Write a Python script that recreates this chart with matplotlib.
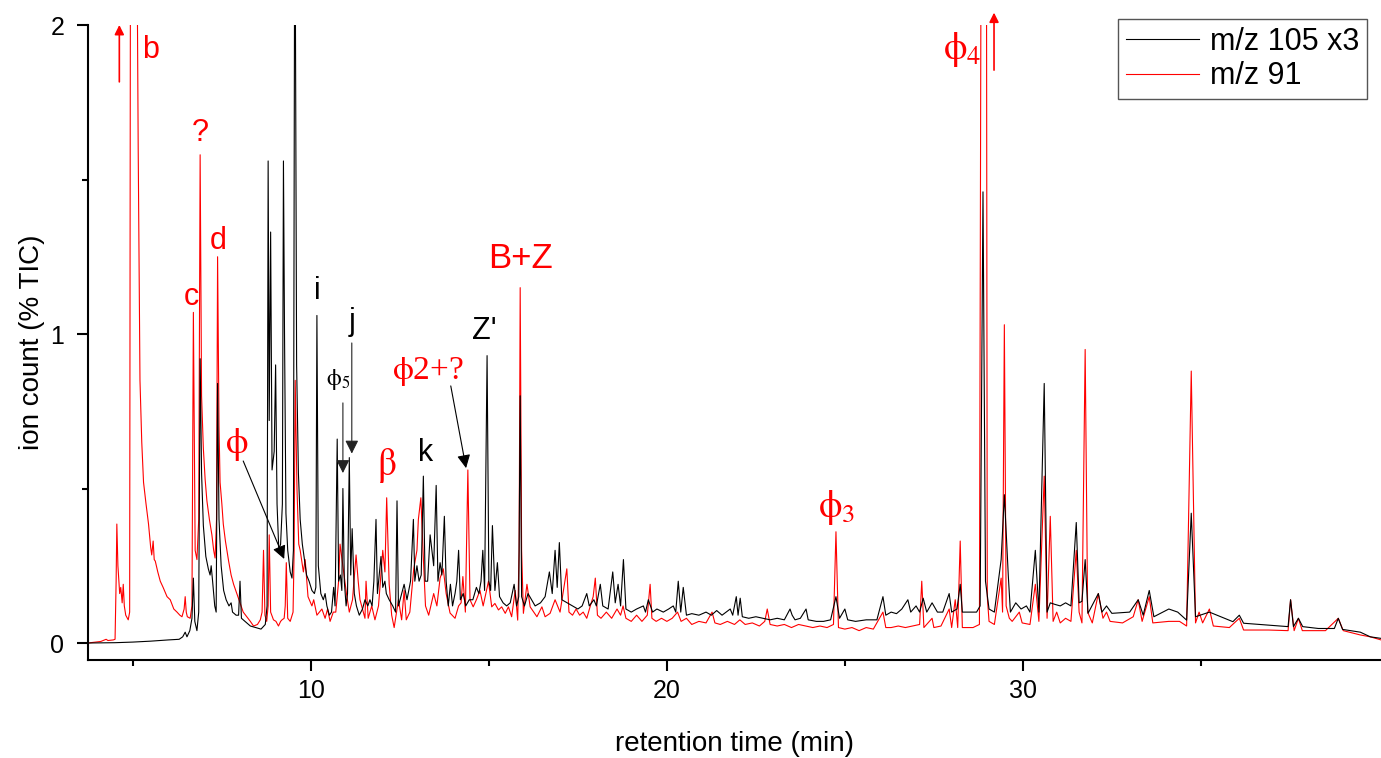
import numpy as np
import matplotlib
matplotlib.use('Agg')
import matplotlib.pyplot as plt

# m/z 105 (x3) trace, (retention time min, % TIC)
mz105_x3 = [
    (3.74, 0.0), (4.5, 0.001), (5.0, 0.003), (5.5, 0.006), (6.0, 0.01), (6.3, 0.012),
    (6.4, 0.02), (6.47, 0.035), (6.52, 0.02), (6.6, 0.04), (6.66, 0.08), (6.70, 0.21),
    (6.74, 0.07), (6.80, 0.04), (6.85, 0.1), (6.89, 0.92), (6.93, 0.55), (6.98, 0.38),
    (7.05, 0.28), (7.12, 0.24), (7.17, 0.22), (7.2, 0.25), (7.24, 0.2), (7.3, 0.12),
    (7.34, 0.1), (7.38, 0.84), (7.42, 0.4), (7.48, 0.25), (7.55, 0.17), (7.62, 0.14),
    (7.7, 0.12), (7.76, 0.13), (7.8, 0.1), (7.9, 0.09), (7.97, 0.09), (8.01, 0.2),
    (8.05, 0.08), (8.15, 0.07), (8.3, 0.055), (8.45, 0.05), (8.6, 0.045), (8.72, 0.06),
    (8.77, 0.12), (8.80, 1.56), (8.83, 0.72), (8.87, 1.33), (8.91, 0.56), (8.97, 0.62),
    (9.01, 0.9), (9.05, 0.45), (9.1, 0.3), (9.15, 0.32), (9.2, 0.45), (9.23, 1.56),
    (9.26, 1.0), (9.3, 0.42), (9.35, 0.3), (9.42, 0.23), (9.47, 0.21), (9.51, 0.3),
    (9.55, 2.6), (9.6, 0.9), (9.65, 0.55), (9.7, 0.4), (9.76, 0.32), (9.82, 0.27),
    (9.88, 0.22), (9.95, 0.2), (10.03, 0.17), (10.1, 0.16), (10.14, 0.18), (10.17, 1.06),
    (10.21, 0.25), (10.28, 0.16), (10.35, 0.14), (10.4, 0.16), (10.45, 0.12), (10.52, 0.09),
    (10.58, 0.1), (10.64, 0.18), (10.68, 0.12), (10.74, 0.66), (10.78, 0.2), (10.83, 0.22),
    (10.87, 0.17), (10.9, 0.5), (10.94, 0.2), (10.99, 0.12), (11.03, 0.16), (11.08, 0.6),
    (11.12, 0.22), (11.16, 0.37), (11.22, 0.16), (11.28, 0.12), (11.36, 0.09), (11.45, 0.11),
    (11.52, 0.14), (11.6, 0.12), (11.66, 0.14), (11.72, 0.12), (11.77, 0.2), (11.83, 0.40),
    (11.87, 0.16), (11.92, 0.22), (11.97, 0.28), (12.02, 0.18), (12.08, 0.2), (12.12, 0.16),
    (12.2, 0.14), (12.3, 0.12), (12.38, 0.1), (12.42, 0.46), (12.46, 0.12), (12.55, 0.16),
    (12.62, 0.19), (12.7, 0.14), (12.8, 0.2), (12.88, 0.40), (12.92, 0.2), (12.98, 0.25),
    (13.04, 0.2), (13.1, 0.22), (13.16, 0.54), (13.21, 0.2), (13.28, 0.2), (13.35, 0.35),
    (13.4, 0.3), (13.45, 0.25), (13.52, 0.51), (13.57, 0.2), (13.63, 0.26), (13.68, 0.22),
    (13.75, 0.41), (13.8, 0.2), (13.86, 0.12), (13.92, 0.19), (13.98, 0.12), (14.05, 0.16),
    (14.1, 0.2), (14.15, 0.30), (14.2, 0.14), (14.28, 0.16), (14.35, 0.12), (14.45, 0.14),
    (14.55, 0.14), (14.65, 0.18), (14.72, 0.16), (14.78, 0.2), (14.83, 0.30), (14.88, 0.17),
    (14.95, 0.93), (15.0, 0.2), (15.05, 0.17), (15.1, 0.38), (15.17, 0.17), (15.24, 0.26),
    (15.3, 0.15), (15.4, 0.13), (15.5, 0.12), (15.6, 0.13), (15.71, 0.19), (15.78, 0.12),
    (15.84, 0.15), (15.88, 0.8), (15.92, 0.15), (16.0, 0.12), (16.1, 0.16), (16.2, 0.14),
    (16.3, 0.12), (16.45, 0.13), (16.58, 0.15), (16.7, 0.23), (16.78, 0.16), (16.86, 0.30),
    (16.92, 0.18), (16.98, 0.325), (17.05, 0.14), (17.2, 0.13), (17.35, 0.12), (17.5, 0.11),
    (17.62, 0.12), (17.75, 0.16), (17.82, 0.12), (17.95, 0.14), (18.02, 0.12), (18.13, 0.19),
    (18.2, 0.12), (18.35, 0.11), (18.48, 0.23), (18.55, 0.13), (18.63, 0.19), (18.7, 0.12),
    (18.78, 0.27), (18.85, 0.11), (19.0, 0.1), (19.15, 0.11), (19.34, 0.12), (19.4, 0.1),
    (19.48, 0.14), (19.6, 0.1), (19.72, 0.11), (19.9, 0.1), (20.05, 0.11), (20.18, 0.12),
    (20.25, 0.1), (20.32, 0.2), (20.39, 0.1), (20.46, 0.18), (20.55, 0.09), (20.7, 0.095),
    (20.9, 0.09), (21.1, 0.1), (21.25, 0.09), (21.4, 0.105), (21.55, 0.09), (21.78, 0.11),
    (21.85, 0.09), (21.95, 0.15), (22.0, 0.09), (22.06, 0.145), (22.12, 0.085), (22.3, 0.08),
    (22.5, 0.085), (22.7, 0.08), (22.9, 0.075), (23.1, 0.08), (23.3, 0.075), (23.46, 0.11),
    (23.52, 0.09), (23.6, 0.075), (23.75, 0.08), (23.91, 0.11), (23.97, 0.075), (24.2, 0.07),
    (24.4, 0.07), (24.6, 0.075), (24.75, 0.15), (24.85, 0.08), (25.0, 0.11), (25.08, 0.075),
    (25.3, 0.07), (25.6, 0.075), (25.9, 0.075), (26.07, 0.15), (26.15, 0.09), (26.3, 0.1),
    (26.45, 0.095), (26.6, 0.11), (26.77, 0.14), (26.85, 0.1), (27.0, 0.12), (27.1, 0.1),
    (27.2, 0.145), (27.3, 0.1), (27.45, 0.13), (27.6, 0.1), (27.75, 0.1), (27.93, 0.16),
    (28.0, 0.1), (28.15, 0.11), (28.24, 0.19), (28.3, 0.1), (28.5, 0.1), (28.7, 0.1),
    (28.8, 0.12), (28.88, 1.46), (28.95, 0.2), (29.05, 0.11), (29.2, 0.1), (29.39, 0.27),
    (29.48, 0.48), (29.59, 0.22), (29.65, 0.1), (29.8, 0.13), (29.95, 0.11), (30.1, 0.12),
    (30.2, 0.1), (30.35, 0.30), (30.45, 0.1), (30.6, 0.84), (30.68, 0.1), (30.77, 0.13),
    (30.9, 0.125), (31.05, 0.12), (31.2, 0.13), (31.35, 0.12), (31.5, 0.39), (31.58, 0.13),
    (31.66, 0.135), (31.75, 0.27), (31.83, 0.096), (32.12, 0.16), (32.22, 0.1), (32.35, 0.12),
    (32.5, 0.096), (33.0, 0.1), (33.24, 0.14), (33.38, 0.09), (33.55, 0.17), (33.68, 0.085),
    (34.1, 0.11), (34.35, 0.1), (34.6, 0.074), (34.73, 0.42), (34.85, 0.085), (35.24, 0.1),
    (35.9, 0.069), (36.08, 0.09), (36.2, 0.064), (36.9, 0.058), (37.45, 0.053), (37.52, 0.14),
    (37.6, 0.053), (37.74, 0.08), (37.86, 0.053), (38.3, 0.047), (38.75, 0.047), (38.86, 0.08),
    (38.98, 0.044), (39.48, 0.035), (39.76, 0.02), (40.06, 0.015),
]

# m/z 91 trace
mz91 = [
    (3.74, 0.0), (4.1, 0.005), (4.25, 0.012), (4.3, 0.008), (4.45, 0.01), (4.5, 0.012),
    (4.53, 0.2), (4.55, 0.385), (4.58, 0.25), (4.63, 0.16), (4.66, 0.18), (4.7, 0.13),
    (4.73, 0.19), (4.76, 0.12), (4.8, 0.09), (4.87, 0.075), (4.91, 0.1), (4.94, 3.0),
    (5.08, 3.0), (5.15, 1.6), (5.2, 0.85), (5.25, 0.65), (5.3, 0.52), (5.37, 0.45),
    (5.44, 0.385), (5.5, 0.31), (5.53, 0.285), (5.57, 0.33), (5.6, 0.27), (5.63, 0.265),
    (5.7, 0.23), (5.77, 0.2), (5.85, 0.18), (5.96, 0.15), (6.05, 0.14), (6.15, 0.11),
    (6.24, 0.1), (6.32, 0.09), (6.38, 0.085), (6.44, 0.11), (6.47, 0.15), (6.5, 0.1),
    (6.53, 0.085), (6.61, 0.08), (6.66, 0.12), (6.70, 1.07), (6.75, 0.3), (6.8, 0.27),
    (6.85, 0.4), (6.89, 1.58), (6.93, 0.8), (6.98, 0.63), (7.03, 0.53), (7.08, 0.46),
    (7.15, 0.4), (7.22, 0.35), (7.27, 0.3), (7.31, 0.275), (7.35, 0.4), (7.38, 1.25),
    (7.42, 0.7), (7.45, 0.52), (7.5, 0.45), (7.54, 0.385), (7.6, 0.33), (7.69, 0.265),
    (7.76, 0.22), (7.83, 0.19), (7.92, 0.16), (8.01, 0.13), (8.1, 0.1), (8.2, 0.085),
    (8.3, 0.07), (8.39, 0.055), (8.5, 0.06), (8.58, 0.075), (8.63, 0.1), (8.67, 0.3),
    (8.71, 0.09), (8.76, 0.07), (8.8, 0.12), (8.83, 0.35), (8.87, 0.1), (8.95, 0.075),
    (9.02, 0.07), (9.09, 0.055), (9.15, 0.07), (9.19, 0.075), (9.25, 0.08), (9.28, 0.12),
    (9.31, 0.26), (9.35, 0.08), (9.42, 0.07), (9.5, 0.1), (9.53, 0.3), (9.56, 0.85),
    (9.61, 0.5), (9.66, 0.32), (9.70, 0.30), (9.79, 0.23), (9.84, 0.27), (9.92, 0.15),
    (10.03, 0.12), (10.08, 0.14), (10.17, 0.09), (10.31, 0.11), (10.4, 0.08), (10.47, 0.11),
    (10.54, 0.07), (10.63, 0.1), (10.7, 0.1), (10.78, 0.2), (10.82, 0.32), (10.9, 0.25),
    (11.0, 0.16), (11.08, 0.1), (11.17, 0.14), (11.27, 0.285), (11.33, 0.2), (11.38, 0.14),
    (11.52, 0.08), (11.55, 0.2), (11.61, 0.08), (11.71, 0.12), (11.8, 0.075), (11.9, 0.12),
    (12.02, 0.30), (12.08, 0.23), (12.13, 0.47), (12.2, 0.19), (12.27, 0.09), (12.34, 0.05),
    (12.46, 0.14), (12.55, 0.075), (12.62, 0.17), (12.68, 0.075), (12.78, 0.1), (12.89, 0.24),
    (12.98, 0.3), (13.02, 0.4), (13.09, 0.47), (13.15, 0.3), (13.22, 0.12), (13.31, 0.09),
    (13.45, 0.16), (13.54, 0.12), (13.63, 0.21), (13.72, 0.24), (13.8, 0.16), (13.91, 0.097),
    (14.05, 0.08), (14.15, 0.12), (14.22, 0.13), (14.27, 0.215), (14.34, 0.1), (14.41, 0.56),
    (14.47, 0.14), (14.56, 0.117), (14.65, 0.14), (14.75, 0.17), (14.84, 0.12), (14.99, 0.2),
    (15.08, 0.117), (15.17, 0.128), (15.27, 0.107), (15.36, 0.117), (15.46, 0.096), (15.55, 0.117),
    (15.64, 0.085), (15.74, 0.17), (15.81, 0.074), (15.85, 0.3), (15.88, 1.15), (15.92, 0.3),
    (15.97, 0.096), (16.07, 0.19), (16.16, 0.117), (16.26, 0.1), (16.35, 0.085), (16.49, 0.117),
    (16.58, 0.085), (16.72, 0.096), (16.86, 0.14), (17.0, 0.1), (17.19, 0.24), (17.25, 0.1),
    (17.35, 0.09), (17.45, 0.11), (17.55, 0.09), (17.65, 0.1), (17.75, 0.08), (17.85, 0.12),
    (17.93, 0.15), (17.99, 0.21), (18.05, 0.09), (18.15, 0.08), (18.3, 0.1), (18.45, 0.08),
    (18.6, 0.11), (18.7, 0.09), (18.77, 0.12), (18.85, 0.08), (19.0, 0.07), (19.15, 0.09),
    (19.3, 0.07), (19.45, 0.09), (19.53, 0.19), (19.58, 0.08), (19.7, 0.07), (19.85, 0.08),
    (20.0, 0.07), (20.15, 0.08), (20.3, 0.1), (20.4, 0.07), (20.55, 0.08), (20.7, 0.06),
    (20.9, 0.07), (21.1, 0.065), (21.27, 0.10), (21.35, 0.065), (21.5, 0.06), (21.7, 0.07),
    (21.9, 0.06), (22.05, 0.075), (22.2, 0.06), (22.4, 0.065), (22.6, 0.055), (22.75, 0.07),
    (22.82, 0.11), (22.9, 0.06), (23.1, 0.055), (23.3, 0.06), (23.5, 0.05), (23.7, 0.06),
    (23.9, 0.055), (24.1, 0.05), (24.3, 0.055), (24.5, 0.05), (24.68, 0.06), (24.75, 0.36),
    (24.82, 0.05), (25.0, 0.045), (25.2, 0.05), (25.4, 0.04), (25.6, 0.05), (25.8, 0.045),
    (26.07, 0.1), (26.15, 0.05), (26.3, 0.05), (26.5, 0.055), (26.7, 0.05), (26.9, 0.055),
    (27.1, 0.06), (27.16, 0.20), (27.22, 0.05), (27.45, 0.08), (27.5, 0.05), (27.7, 0.055),
    (27.93, 0.11), (28.0, 0.05), (28.1, 0.14), (28.17, 0.05), (28.24, 0.33), (28.3, 0.05),
    (28.6, 0.05), (28.78, 0.06), (28.84, 3.0), (28.97, 3.0), (29.0, 0.15), (29.05, 0.07),
    (29.2, 0.06), (29.39, 0.21), (29.43, 0.1), (29.48, 1.03), (29.53, 0.12), (29.62, 0.08),
    (29.7, 0.07), (29.9, 0.1), (29.98, 0.065), (30.2, 0.06), (30.35, 0.19), (30.45, 0.07),
    (30.6, 0.54), (30.68, 0.08), (30.77, 0.41), (30.85, 0.07), (30.95, 0.1), (31.05, 0.065),
    (31.2, 0.08), (31.35, 0.07), (31.5, 0.30), (31.58, 0.1), (31.66, 0.065), (31.75, 0.95),
    (31.82, 0.1), (31.95, 0.065), (32.12, 0.16), (32.25, 0.08), (32.35, 0.1), (32.45, 0.07),
    (32.8, 0.065), (33.1, 0.085), (33.24, 0.14), (33.35, 0.07), (33.55, 0.15), (33.65, 0.065),
    (34.1, 0.07), (34.4, 0.07), (34.6, 0.055), (34.73, 0.88), (34.85, 0.065), (34.95, 0.1),
    (35.05, 0.065), (35.24, 0.11), (35.35, 0.055), (35.8, 0.05), (36.08, 0.08), (36.2, 0.042),
    (36.9, 0.042), (37.45, 0.04), (37.52, 0.14), (37.62, 0.04), (37.74, 0.08), (37.85, 0.04),
    (38.5, 0.04), (38.86, 0.08), (39.0, 0.04), (39.48, 0.026), (39.76, 0.02), (40.06, 0.01),
]

x_major = [10, 20, 30]
x_minor = [5, 15, 25, 35]
y_major = [0, 1, 2]
y_minor = [0.5, 1.5]

plt.rcParams['font.family'] = ['Liberation Sans', 'DejaVu Sans']
plt.rcParams['mathtext.fontset'] = 'stix'

W, H = 1381, 758
fig = plt.figure(figsize=(W / 100, H / 100), dpi=100)
ax = fig.add_axes([88 / W, 1 - 660 / H, (W - 88) / W, (660 - 25) / H])

t_b, v_b = np.array(mz105_x3).T
t_r, v_r = np.array(mz91).T
line_r, = ax.plot(t_r, v_r, color='#ff0000', lw=0.8, label='m/z 91', zorder=2)
line_b, = ax.plot(t_b, v_b, color='black', lw=0.8, label='m/z 105 x3', zorder=3)

ax.set_xlim(3.74, 40.06)
ax.set_ylim(-0.055, 2.0)
ax.set_xticks(x_major)
ax.set_xticks(x_minor, minor=True)
ax.set_yticks(y_major)
ax.set_yticks(y_minor, minor=True)
ax.tick_params(which='major', direction='out', length=8, width=1.5, labelsize=18, pad=6)
ax.tick_params(axis='y', which='major', pad=9)
ax.tick_params(which='minor', direction='out', length=4, width=1.5)
for s in ['top', 'right']:
    ax.spines[s].set_visible(False)
for s in ['left', 'bottom']:
    ax.spines[s].set_linewidth(1.5)

ax.set_xlabel('retention time (min)', fontsize=20)
ax.xaxis.set_label_coords(0.5, -0.112)
ax.set_ylabel('ion count (% TIC)', fontsize=20)
ax.yaxis.set_label_coords(-0.033, 0.5)

ax.legend(handles=[line_b, line_r], loc='upper right',
          bbox_to_anchor=(1367 / W, 1 - 19 / H), bbox_transform=fig.transFigure,
          fancybox=False, edgecolor='#555555', framealpha=1, fontsize=22,
          handlelength=2.4, borderpad=0.25, labelspacing=0.15, handletextpad=0.35,
          borderaxespad=0)

# peak labels
sans_labels = [
    ('b', 5.49, 1.92, 'red'), ('?', 6.89, 1.65, 'red'), ('c', 6.63, 1.12, 'red'),
    ('d', 7.40, 1.30, 'red'), ('i', 10.18, 1.14, 'black'), ('j', 11.15, 1.04, 'black'),
    ('k', 13.21, 0.615, 'black'), ("Z'", 14.87, 1.01, 'black'),
]
for txt, x, y, c in sans_labels:
    ax.text(x, y, txt, color=c, fontsize=22, ha='center', va='center')
ax.text(15.88, 1.243, 'B+Z', color='red', fontsize=25, ha='center', va='center')

serif = ['Liberation Serif', 'DejaVu Serif']
phi = r'\mathrm{\phi}'
ax.text(7.93, 0.644, '$' + phi + '$', color='red', fontsize=26, ha='center', va='center')
ax.text(10.77, 0.854, '$' + phi + '_5$', color='black', fontsize=17, ha='center', va='center')
ax.text(12.14, 0.573, r'$\mathrm{\beta}$', color='red', fontsize=27, ha='center', va='center')
ax.text(13.30, 0.88, '$' + phi + '$2+?', color='red', fontsize=24, ha='center', va='center',
        family=serif)
ax.text(24.78, 0.44, '$' + phi + '_3$', color='red', fontsize=27, ha='center', va='center')
ax.text(28.30, 1.92, '$' + phi + '_4$', color='red', fontsize=27, ha='center', va='center')

def arrow(x0, y0, x1, y1, color, lw=0.8, ms=16):
    ax.annotate('', xy=(x1, y1), xytext=(x0, y0), annotation_clip=False,
                arrowprops=dict(arrowstyle='-|>', color=color, lw=lw,
                                mutation_scale=ms, shrinkA=0, shrinkB=0))

arrow(4.62, 1.816, 4.62, 2.0, 'red', lw=1.2, ms=14)
arrow(29.19, 1.854, 29.19, 2.04, 'red', lw=1.2, ms=14)
arrow(8.10, 0.589, 9.25, 0.272, 'black', ms=20)
arrow(10.90, 0.777, 10.90, 0.55, '#222222', ms=20)
arrow(11.15, 0.971, 11.15, 0.613, '#222222', ms=20)
arrow(13.93, 0.832, 14.36, 0.566, 'black', ms=20)

fig.savefig('out.png', dpi=100)
